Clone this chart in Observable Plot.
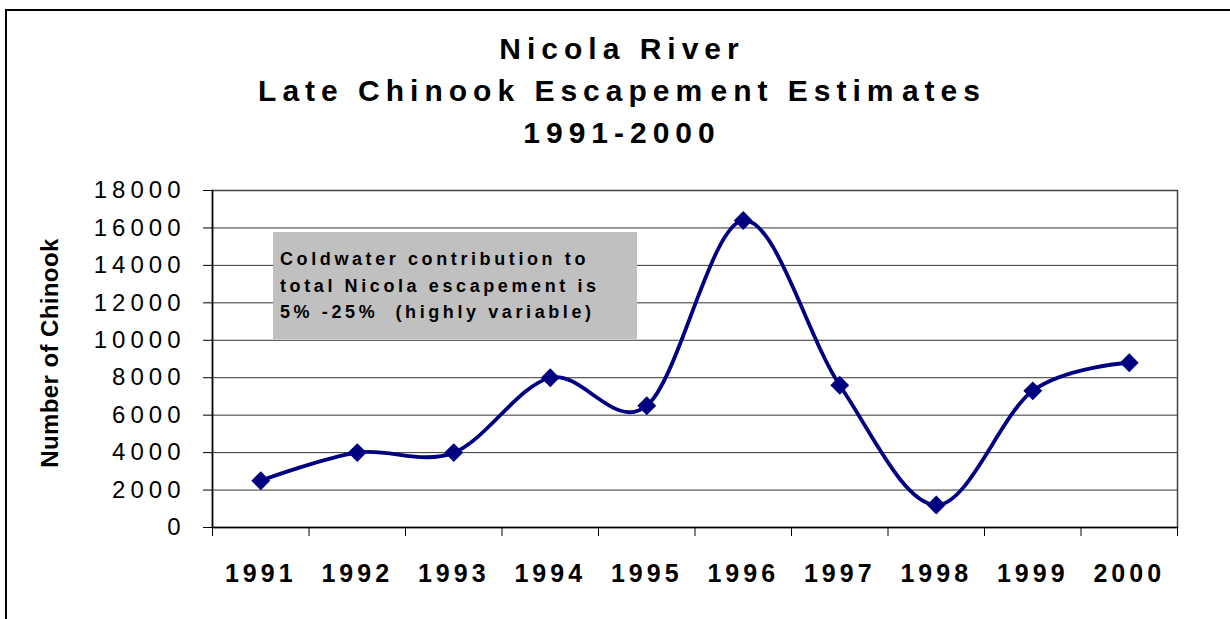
<!DOCTYPE html>
<html>
<head>
<meta charset="utf-8">
<script src="https://cdn.jsdelivr.net/npm/d3@7"></script>
<script src="https://cdn.jsdelivr.net/npm/@observablehq/plot@0.6"></script>
<style>
  body { margin: 0; background: #fff; font-family: "Liberation Sans", Arial, sans-serif; }
  #wrap { position: relative; width: 1230px; height: 619px; overflow: hidden; background: #fff; }
  #frame { position: absolute; left: 5px; top: 9px; width: 1400px; height: 800px;
           border-left: 2.5px solid #000; border-top: 2.5px solid #000; }
  #chart { position: absolute; left: 0; top: 0; }
  #title { position: absolute; left: 0; top: 28px; width: 1244px; text-align: center;
           font-weight: bold; font-size: 30px; line-height: 42px; letter-spacing: 6px; color: #000; }
  #title .tight { letter-spacing: -6px; }
  #ytitle { position: absolute; left: 50px; top: 353px; transform: translate(-50%, -50%) rotate(-90deg);
            white-space: nowrap; font-weight: bold; font-size: 24px; letter-spacing: 0.4px; color: #000; }
  #note { position: absolute; left: 273px; top: 232px; width: 357px; height: 93px;
          background: #c0c0c0; padding: 14px 0 0 7px; font-weight: bold; font-size: 18px;
          line-height: 26.5px; letter-spacing: 3.6px; color: #000; white-space: nowrap; }
  g[aria-label="y-axis tick label"] text { letter-spacing: 5px; }
  g[aria-label="x-axis tick label"] text { letter-spacing: 4px; }
</style>
</head>
<body>
<div id="wrap">
  <div id="frame"></div>
  <div id="chart"></div>
  <div id="title"></div>
  <div id="ytitle"></div>
  <div id="note"></div>
</div>
<script>
// ---- data ----
const titleLines = ["Nicola River", "Late Chinook Escapem ent Estim ates", "1991-2000"];
const yAxisTitle = "Number of Chinook";
const noteLines = ["Coldwater contribution to", "total Nicola escapement is", "5% -25%  (highly variable)"];
const years = [1991, 1992, 1993, 1994, 1995, 1996, 1997, 1998, 1999, 2000];
const escapement = [2500, 4000, 4000, 8000, 6500, 16400, 7600, 1200, 7300, 8800];
const yTicks = [0, 2000, 4000, 6000, 8000, 10000, 12000, 14000, 16000, 18000];

const data = years.map((year, i) => ({ year, value: escapement[i] }));
const boundaries = years.map(y => y - 0.5).concat([years[years.length - 1] + 0.5]);

// the split words in the title ("Escapem ent", "Estim ates") carry a narrow gap only
const fmtTitle = t => t.replace(/(\w) (?=[a-z])/g, '$1<span class="tight"> </span>');
document.getElementById("title").innerHTML = titleLines.map(t => `<div>${fmtTitle(t)}</div>`).join("");
document.getElementById("ytitle").textContent = yAxisTitle;
document.getElementById("note").innerHTML = noteLines.map(t => `<div>${t.replace(/  /g, "&nbsp; ")}</div>`).join("");

const navy = "#000080";

const chart = Plot.plot({
  width: 1230,
  height: 619,
  marginLeft: 212,
  marginRight: 53,
  marginTop: 190,
  marginBottom: 92,
  style: { fontFamily: '"Liberation Sans", Arial, sans-serif', background: "transparent", color: "#000" },
  x: { type: "linear", domain: [years[0] - 0.5, years[years.length - 1] + 0.5] },
  y: { domain: [0, yTicks[yTicks.length - 1]] },
  marks: [
    Plot.gridY(yTicks, { stroke: "#000", strokeOpacity: 0.8, strokeWidth: 1 }),
    Plot.frame({ stroke: "#444", strokeWidth: 1.5 }),
    Plot.frame({ anchor: "left", stroke: "#000", strokeWidth: 1.5 }),
    Plot.frame({ anchor: "bottom", stroke: "#000", strokeWidth: 1.5 }),
    Plot.axisY(yTicks, { tickSize: 9, tickPadding: 18, fontSize: 24, label: null, tickFormat: d => String(d), stroke: "#000" }),
    Plot.axisX(boundaries, { tickSize: 9, tickFormat: () => "", label: null, stroke: "#000" }),
    Plot.axisX(years, { tickSize: 0, tickPadding: 37, fontSize: 25, fontWeight: "bold", label: null, tickFormat: d => String(d) }),
    Plot.line(data, { x: "year", y: "value", curve: "cardinal", stroke: navy, strokeWidth: 3.8 }),
    Plot.dot(data, { x: "year", y: "value", symbol: "diamond2", r: 8.5, fill: navy, stroke: "none" })
  ]
});
document.getElementById("chart").appendChild(chart);
</script>
</body>
</html>
